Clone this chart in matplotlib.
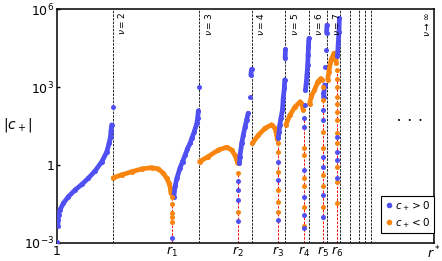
import numpy as np
import matplotlib.pyplot as plt
from matplotlib.collections import LineCollection
from matplotlib.lines import Line2D

blue = '#4f4ff2'
orange = '#f9850f'

# x axis runs from 1 to r* (r* drawn at 2)
rstar = 2.0
nu_lines = [1.148, 1.377, 1.517, 1.606, 1.669, 1.717, 1.751, 1.777, 1.801, 1.817, 1.833]
nu_labels = ['$\\nu = 2$', '$\\nu = 3$', '$\\nu = 4$', '$\\nu = 5$', '$\\nu = 6$', '$\\nu = 7$']
r_zeros = [1.305, 1.481, 1.585, 1.655, 1.705, 1.742]
xtick_vals = [1.0] + r_zeros + [rstar]
xtick_labels = ['1', '$r_1$', '$r_2$', '$r_3$', '$r_4$', '$r_5$', '$r_6$', '$r^*$']
ytick_vals = [1e-3, 1, 1e3, 1e6]
ytick_labels = ['$10^{-3}$', '1', '$10^{3}$', '$10^{6}$']

# smooth branches between asymptotes / zeros
seg1_x = [1.000, 1.002, 1.003, 1.004, 1.008, 1.017, 1.030, 1.048, 1.066, 1.083, 1.101, 1.119, 1.132, 1.138, 1.142, 1.143, 1.145, 1.148]
seg1_y = [1.1e-3, 4.5e-3, 7.6e-3, 0.012, 0.019, 0.034, 0.060, 0.11, 0.18, 0.31, 0.59, 1.35, 3.2, 6.8, 12, 19, 35, 166]
seg2_x = [1.149, 1.172, 1.198, 1.225, 1.251, 1.269, 1.282, 1.291, 1.297, 1.301, 1.302]
seg2_y = [0.32, 0.42, 0.55, 0.71, 0.79, 0.71, 0.48, 0.31, 0.20, 0.126, 0.081]
seg3_x = [1.310, 1.313, 1.318, 1.326, 1.333, 1.340, 1.346, 1.353, 1.358, 1.364, 1.371, 1.373, 1.375, 1.377]
seg3_y = [0.060, 0.15, 0.31, 0.74, 1.35, 2.4, 4.2, 6.8, 11, 19, 40, 63, 123, 1000]
seg4_x = [1.378, 1.401, 1.428, 1.450, 1.463, 1.472, 1.477, 1.479]
seg4_y = [1.35, 2.1, 3.8, 4.8, 3.8, 2.4, 1.55, 1.17]
seg5_x = [1.484, 1.485, 1.490, 1.494, 1.499, 1.503, 1.507, 1.512, 1.514, 1.516]
seg5_y = [1.17, 2.1, 6.8, 14, 30, 54, 98, 430, 2900, 4800]
seg6_x = [1.518, 1.534, 1.552, 1.569, 1.578, 1.583, 1.584]
seg6_y = [6.8, 14, 26, 35, 26, 14, 9.8]
seg7_x = [1.587, 1.589, 1.591, 1.594, 1.598, 1.600, 1.603, 1.604, 1.605, 1.606]
seg7_y = [11, 19, 35, 63, 130, 370, 890, 1900, 12600, 28000]
seg8_x = [1.607, 1.618, 1.631, 1.645, 1.649, 1.653]
seg8_y = [35, 83, 170, 270, 230, 130]
seg9_x = [1.657, 1.659, 1.661, 1.663, 1.665, 1.666, 1.667, 1.668]
seg9_y = [200, 760, 1400, 2900, 7100, 17000, 35000, 74000]
seg10_x = [1.670, 1.675, 1.683, 1.692, 1.700, 1.704]
seg10_y = [230, 450, 760, 1600, 2100, 1900]
seg11_x = [1.707, 1.710, 1.712, 1.714, 1.715, 1.716]
seg11_y = [400, 1200, 6000, 26000, 120000, 240000]
seg12_x = [1.718, 1.721, 1.727, 1.735, 1.740, 1.741]
seg12_y = [1900, 3900, 11000, 20000, 15000, 8100]
seg13_x = [1.744, 1.746, 1.748, 1.749]
seg13_y = [16000, 48000, 135000, 440000]

# scattered points sitting on the zeros r_k
col_pos = [
    [0.0016],
    [0.25, 0.11, 0.045, 0.0072],
    [1.35, 0.26, 0.0076],
    [63, 30, 0.65, 0.060, 0.012, 0.0037],
    [580, 130, 54, 2.1, 0.85, 0.071, 0.010],
    [12, 3.2, 1.55, 0.31],
]
col_neg = [
    [0.060, 0.031, 0.014, 0.010, 0.0066],
    [0.50, 0.016],
    [6.8, 3.2, 0.55, 0.11, 0.039, 0.016],
    [4.4, 2.4, 0.31, 0.15, 0.025, 0.0047],
    [1000, 320, 19, 4.4, 0.42, 0.15, 0.025],
    [4500, 2100, 1000, 430, 230, 110, 54, 17, 6.8, 0.81, 0.23, 0.034],
]

segs = [
    (seg1_x, seg1_y, blue), (seg2_x, seg2_y, orange), (seg3_x, seg3_y, blue),
    (seg4_x, seg4_y, orange), (seg5_x, seg5_y, blue), (seg6_x, seg6_y, orange),
    (seg7_x, seg7_y, blue), (seg8_x, seg8_y, orange), (seg9_x, seg9_y, blue),
    (seg10_x, seg10_y, orange), (seg11_x, seg11_y, blue), (seg12_x, seg12_y, orange),
    (seg13_x, seg13_y, blue),
]

fig = plt.figure(figsize=(4.42, 2.61), dpi=100)
ax = fig.add_axes([57 / 442, 18 / 261, 377 / 442, 234 / 261])
ax.set_yscale('log')
ax.set_xlim(1, rstar)
ax.set_ylim(1e-3, 1e6)

for xv in nu_lines:
    ax.axvline(xv, color='#222222', ls=(0, (2.5, 1.2)), lw=0.7, zorder=1)
for xv, pos, neg in zip(r_zeros, col_pos, col_neg):
    ax.vlines(xv, 1e-3, max(pos + neg), color='red', ls=(0, (2.5, 1.5)), lw=0.7, zorder=1)

for sx, sy, c in segs:
    sx = np.array(sx)
    sy = np.array(sy)
    pts = ax.transData.transform(np.column_stack([sx, sy]))
    gaps = np.hypot(*np.diff(pts, axis=0).T)
    lines = [[(sx[i], sy[i]), (sx[i + 1], sy[i + 1])] for i in range(len(sx) - 1) if gaps[i] < 14]
    ax.add_collection(LineCollection(lines, colors=c, linewidths=3.4, capstyle='round', zorder=3))
    ax.plot(sx, sy, 'o', color=c, ms=3.6, mec='none', zorder=3)

for xv, pos, neg in zip(r_zeros, col_pos, col_neg):
    ax.plot([xv] * len(neg), neg, 'o', color=orange, ms=3.6, mec='none', zorder=4)
    ax.plot([xv] * len(pos), pos, 'o', color=blue, ms=3.6, mec='none', zorder=4)

for xv, lab in zip(nu_lines, nu_labels):
    ax.text(xv + 0.009, 0.985, lab, transform=ax.get_xaxis_transform(), rotation=90,
            ha='left', va='top', fontsize=6.5)
ax.text(rstar - 0.004, 0.985, '$\\nu \\to \\infty$', transform=ax.get_xaxis_transform(),
        rotation=90, ha='right', va='top', fontsize=6.5)
ax.text(0.935, 0.52, '\u2022   \u2022   \u2022', transform=ax.transAxes, ha='center', va='center', fontsize=5)

ax.set_xticks(xtick_vals)
ax.set_xticklabels(xtick_labels, fontsize=9)
ax.set_yticks(ytick_vals)
ax.set_yticklabels(ytick_labels, fontsize=9)
ax.minorticks_off()
ax.tick_params(direction='in', length=2, width=1, pad=2)
ax.tick_params(axis='x', length=0, pad=1.5)
for s in ax.spines.values():
    s.set_linewidth(1.1)

ax.text(-0.105, 0.505, '$|c_+|$', transform=ax.transAxes, ha='center', va='center', fontsize=10)

handles = [Line2D([], [], ls='none', marker='o', color=blue, ms=4, mec='none'),
           Line2D([], [], ls='none', marker='o', color=orange, ms=4, mec='none')]
leg = ax.legend(handles, ['$c_+ > 0$', '$c_+ < 0$'], loc='lower right', bbox_to_anchor=(1, 0.043),
                borderaxespad=0, fontsize=7.5, fancybox=False, edgecolor='k', framealpha=1,
                handletextpad=0.1, handlelength=1.0, borderpad=0.3, labelspacing=0.3)
leg.get_frame().set_linewidth(0.8)

fig.savefig('out.png', dpi=100)
